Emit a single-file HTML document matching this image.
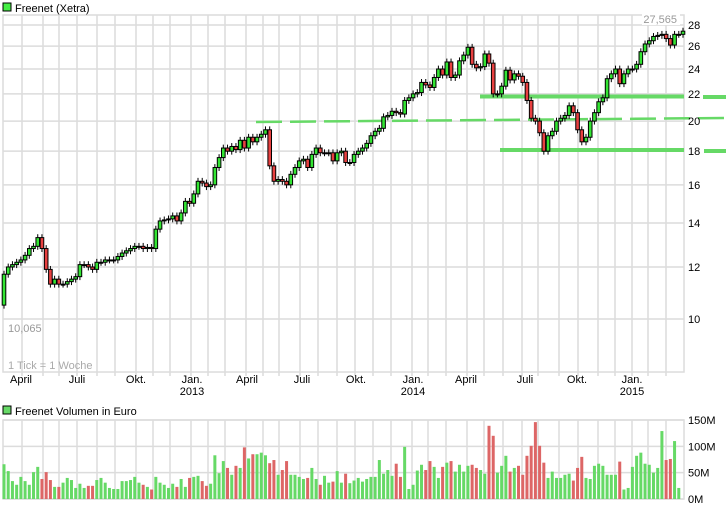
<!DOCTYPE html>
<html><head><meta charset="utf-8"><style>
body{margin:0;background:#fff;width:726px;height:508px;overflow:hidden;font-family:"Liberation Sans",sans-serif}
svg{display:block}
text{font-family:"Liberation Sans",sans-serif;font-size:11px}
</style></head><body>
<svg id="c" width="726" height="508"></svg>
<script>
const closes=[11.7,12.0,12.1,12.2,12.3,12.5,12.8,12.9,13.3,12.8,11.9,11.3,11.5,11.3,11.3,11.4,11.5,11.6,12.1,12.1,12.0,11.9,12.2,12.2,12.3,12.3,12.3,12.45,12.6,12.7,12.8,12.9,12.9,12.8,12.85,12.8,13.7,14.1,14.15,14.2,14.35,14.1,14.5,15.1,15.0,15.5,16.2,16.1,15.9,16.0,17.0,17.6,18.2,18.0,18.3,18.1,18.7,18.2,18.9,18.6,18.9,19.1,19.4,17.1,16.2,16.3,16.2,16.0,16.6,17.0,17.4,17.5,17.0,17.8,18.2,17.9,17.9,17.9,17.4,17.9,18.0,17.3,17.3,17.8,18.0,18.2,18.5,19.0,19.3,19.5,20.3,20.4,20.7,20.6,20.5,21.5,21.7,22.0,22.1,22.9,22.7,22.5,23.3,24.0,23.5,24.6,23.3,23.5,24.7,25.2,25.9,24.4,24.1,24.2,25.3,24.5,22.0,22.0,22.6,23.9,23.1,23.6,23.4,22.9,21.5,20.2,20.0,19.2,18.0,19.0,19.3,20.0,20.2,20.4,21.1,20.6,19.4,18.6,18.9,20.0,20.6,21.4,21.7,23.2,23.6,24.0,22.8,23.6,24.0,24.0,24.4,25.5,26.2,26.5,26.9,27.0,27.1,26.7,26.1,27.1,27.1,27.4];
const firstOpen=10.5;
const volumes=[66,53,34,27,42,34,27,51,61,38,51,36,23,23,31,40,36,21,29,21,25,25,36,40,31,21,19,19,34,34,36,42,31,27,23,18,42,31,27,21,29,23,38,23,40,42,44,34,25,29,83,49,72,59,46,63,59,98,77,85,85,88,83,68,74,46,55,72,46,46,42,38,40,59,38,27,44,31,33,53,31,48,30,35,40,33,38,42,42,74,48,55,44,67,42,99,19,27,54,65,55,72,61,40,61,69,72,52,65,52,63,65,59,55,48,139,120,50,63,82,52,59,63,46,82,101,146,101,69,40,52,40,40,46,48,35,59,80,40,38,63,67,63,46,46,46,71,18,21,61,82,88,67,65,50,59,129,74,76,110,21];
const priceTicks=[28,26,24,22,20,18,16,14,12,10];
const volTicks=[150,100,50,0];
const monthLabels=["April","Juli","Okt.","Jan.","April","Juli","Okt.","Jan.","April","Juli","Okt.","Jan."];
const yearLabels=["","","","2013","","","","2014","","","","2015"];

const NS="http://www.w3.org/2000/svg",svg=document.getElementById('c');
function el(t,a,p){const e=document.createElementNS(NS,t);for(const k in a)e.setAttribute(k,a[k]);(p||svg).appendChild(e);return e;}
const X0=4,X1=683,PT=15,PB=372,VT=420,VB=499,R=684;
const xs=i=>X0+i*(X1-X0)/(closes.length-1);
const py=p=>25+285.6*Math.log(28/p);
const vy=v=>VB-v*(VB-VT)/150;
const gridX=[22,43,59,77,97,115,136,153,170,191,208,225,246,263,279,300,318,337,355,373,391,412,428,446,467,484,503,522,538,559,578,598,615,632,648,666];
const labX=[21,77,136,192,247,302,356,413,466,525,577,632];

let g=el('g',{});
gridX.forEach(x=>{el('line',{x1:x,x2:x,y1:PT,y2:PB+4,stroke:'#dcdcdc','stroke-width':1.5},g);el('line',{x1:x,x2:x,y1:VT,y2:VB,stroke:'#dcdcdc','stroke-width':1.5},g);});
priceTicks.forEach(p=>{el('line',{x1:3,x2:R,y1:py(p),y2:py(p),stroke:'#dcdcdc','stroke-width':1.5},g);});
volTicks.forEach(v=>{el('line',{x1:3,x2:R,y1:vy(v),y2:vy(v),stroke:'#dcdcdc','stroke-width':1.5},g);});
el('rect',{x:3,y:PT,width:R-3,height:PB-PT,fill:'none',stroke:'#dcdcdc','stroke-width':1.5},g);
el('rect',{x:3,y:VT,width:R-3,height:VB-VT,fill:'none',stroke:'#dcdcdc','stroke-width':1.5},g);

let t=el('rect',{x:3,y:3,width:8,height:8,fill:'#44ee44',stroke:'#000'});
t=el('text',{x:15,y:12});t.textContent='Freenet (Xetra)';
t=el('rect',{x:3,y:406,width:8,height:8,fill:'#66d966',stroke:'#000'});
t=el('text',{x:15,y:415});t.textContent='Freenet Volumen in Euro';

const ln=el('g',{stroke:'#66d966','stroke-width':4,fill:'none'});
el('line',{x1:480,x2:684,y1:96.5,y2:96.5},ln);el('line',{x1:703,x2:726,y1:97,y2:97},ln);
el('line',{x1:500,x2:684,y1:150,y2:150},ln);el('line',{x1:704,x2:726,y1:151,y2:151},ln);
el('line',{x1:256,x2:726,y1:122,y2:118,'stroke-width':2.5,'stroke-dasharray':'26 8'},ln);

const cg=el('g',{});
closes.forEach((c,i)=>{const o=i?closes[i-1]:firstOpen,x=xs(i);const hi=Math.max(o,c)*1.012,lo=Math.min(o,c)*0.988;
el('line',{x1:x,x2:x,y1:py(hi),y2:py(lo),stroke:'#000','stroke-width':1},cg);
const top=py(Math.max(o,c)),h=Math.max(1,py(Math.min(o,c))-top);
const r=el('rect',{x:x-1.8,y:top,width:3.6,height:h,fill:c>=o?'#33e533':'#e84040',stroke:'#000','stroke-width':1},cg);

});

const vg=el('g',{});
volumes.forEach((v,i)=>{const c=closes[i],o=i?closes[i-1]:firstOpen;
const b=el('rect',{x:xs(i)-1.5,y:vy(v),width:3,height:VB-vy(v),fill:c>=o?'#66d966':'#dd6666'},vg);

});

priceTicks.forEach(p=>{const e=el('text',{x:688,y:py(p)+4});e.textContent=p;

});
volTicks.forEach(v=>{const e=el('text',{x:688,y:vy(v)+4});e.textContent=v+'M';

});
monthLabels.forEach((m,i)=>{const e=el('text',{x:labX[i],y:383,'text-anchor':'middle'});e.textContent=m;


if(yearLabels[i]){const y=el('text',{x:labX[i],y:395,'text-anchor':'middle'});y.textContent=yearLabels[i];

}});
el('rect',{x:642,y:14,width:38,height:11,fill:'#fff'});
t=el('text',{x:677,y:23,'text-anchor':'end',fill:'#999'});t.textContent='27,565';
t=el('text',{x:8,y:332,fill:'#999'});t.textContent='10,065';
t=el('text',{x:8,y:369,fill:'#aaa'});t.textContent='1 Tick = 1 Woche';
</script>
</body></html>
